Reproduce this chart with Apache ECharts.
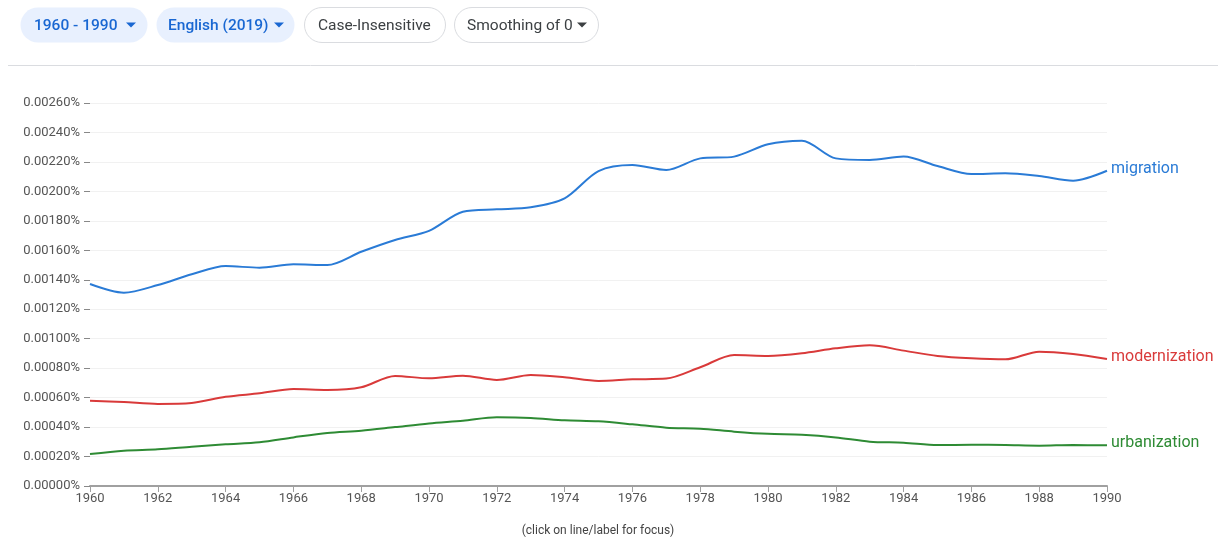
<!DOCTYPE html>
<html>
<head>
<meta charset="utf-8">
<script src="https://cdn.jsdelivr.net/npm/echarts@6/dist/echarts.min.js"></script>
<style>
html,body{margin:0;padding:0;background:#fff;}
#chart{width:1222px;height:538px;}
</style>
</head>
<body>
<div id="chart"></div>
<script>
const years = ["1960","1961","1962","1963","1964","1965","1966","1967","1968","1969","1970","1971","1972","1973","1974","1975","1976","1977","1978","1979","1980","1981","1982","1983","1984","1985","1986","1987","1988","1989","1990"];
const migration = [0.001371,0.001312,0.001364,0.001437,0.001493,0.001482,0.001505,0.001500,0.001590,0.001670,0.001732,0.001862,0.001878,0.001892,0.001953,0.002138,0.002179,0.002145,0.002224,0.002236,0.002320,0.002344,0.002224,0.002213,0.002236,0.002172,0.002118,0.002123,0.002104,0.002073,0.002140];
const modernization = [0.000579,0.000570,0.000557,0.000563,0.000606,0.000629,0.000658,0.000652,0.000670,0.000747,0.000731,0.000749,0.000720,0.000754,0.000738,0.000713,0.000724,0.000729,0.000806,0.000889,0.000883,0.000901,0.000935,0.000955,0.000919,0.000883,0.000867,0.000860,0.000912,0.000896,0.000862];
const urbanization = [0.000217,0.000240,0.000249,0.000267,0.000283,0.000297,0.000330,0.000360,0.000375,0.000400,0.000425,0.000443,0.000466,0.000462,0.000446,0.000439,0.000419,0.000396,0.000389,0.000369,0.000354,0.000348,0.000330,0.000301,0.000294,0.000278,0.000280,0.000278,0.000274,0.000278,0.000276];
const seriesNames = ["migration","modernization","urbanization"];
const seriesColors = ["#2a7bd6","#d93a3a","#2e8b34"];
const buttons = ["1960 - 1990","English (2019)","Case-Insensitive","Smoothing of 0"];
const footnote = "(click on line/label for focus)";

const chart = echarts.init(document.getElementById('chart'), null, {renderer:'canvas'});
const font = 'Roboto, "Noto Sans", sans-serif';

function mkSeries(name, data, color){
  return {
    name: name, type:'line', data: data, smooth: 0.3, symbol:'none',
    lineStyle:{color:color, width:2},
    itemStyle:{color:color},
    endLabel:{show:true, formatter: name, color: color, fontSize:16, fontFamily:font, distance:4, offset:[0,-2]},
    emphasis:{disabled:true}
  };
}

const pills = [
  {x:20, w:127, fill:'#e8f0fe', stroke:null, color:'#1967d2', weight:500, text:buttons[0], tx:34, caret:131},
  {x:156, w:138, fill:'#e8f0fe', stroke:null, color:'#1967d2', weight:500, text:buttons[1], tx:168, caret:279},
  {x:304, w:141, fill:'#ffffff', stroke:'#dadce0', color:'#3c4043', weight:400, text:buttons[2], tx:318, caret:null},
  {x:454, w:144, fill:'#ffffff', stroke:'#dadce0', color:'#3c4043', weight:400, text:buttons[3], tx:467, caret:582}
];
const graphics = [];
pills.forEach(p => {
  graphics.push({type:'rect', shape:{x:p.x+0.5, y:7.5, width:p.w, height:35, r:17.5}, style:{fill:p.fill, stroke:p.stroke||null, lineWidth:1}});
  graphics.push({type:'text', x:p.tx, y:26.5, style:{text:p.text, fill:p.color, font: p.weight+' 15.5px '+font, verticalAlign:'middle', align:'left'}});
  if (p.caret !== null) {
    graphics.push({type:'polygon', shape:{points:[[p.caret-5,22.5],[p.caret+5,22.5],[p.caret,27.5]]}, style:{fill:p.color}});
  }
});
graphics.push({type:'line', shape:{x1:8, y1:65.5, x2:1218, y2:65.5}, style:{stroke:'#dadce0', lineWidth:1}});
graphics.push({type:'text', x:598, y:531, style:{text:footnote, fill:'#444', font:'12px '+font, align:'center', verticalAlign:'middle'}});

chart.setOption({
  animation:false,
  backgroundColor:'#fff',
  grid:{left:90, right:115, top:103, bottom:52, containLabel:false, outerBoundsMode:'none'},
  xAxis:{
    type:'category', data: years, boundaryGap:false,
    axisLine:{show:true, lineStyle:{color:'#a0a0a0', width:2}},
    axisTick:{show:true, interval:1, length:6, lineStyle:{color:'#a0a0a0', width:1}},
    axisLabel:{interval:1, color:'#555', fontSize:13, fontFamily:font, margin:6},
    splitLine:{show:false}
  },
  yAxis:{
    type:'value', min:0, max:0.0026, interval:0.0002,
    axisLine:{show:false},
    axisTick:{show:true, length:6, lineStyle:{color:'#888', width:1}},
    axisLabel:{color:'#555', fontSize:13, fontFamily:font, margin:10, formatter: v => v.toFixed(5)+'%'},
    splitLine:{show:true, lineStyle:{color:'#f1f1f1', width:1}}
  },
  series:[
    mkSeries(seriesNames[0], migration, seriesColors[0]),
    mkSeries(seriesNames[1], modernization, seriesColors[1]),
    mkSeries(seriesNames[2], urbanization, seriesColors[2])
  ],
  graphic: graphics
});
</script>
</body>
</html>
